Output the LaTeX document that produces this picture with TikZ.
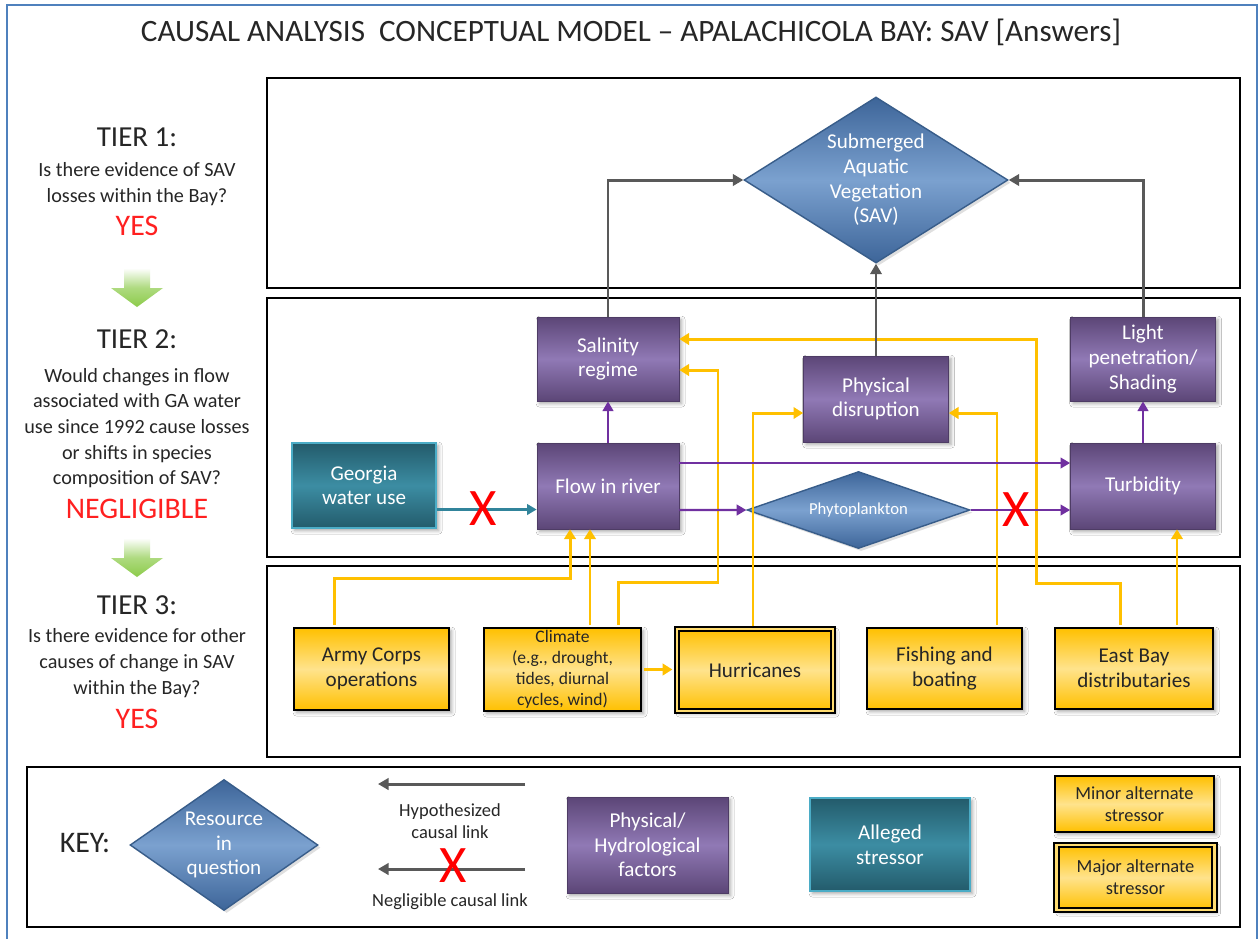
\documentclass[tikz,border=0pt]{standalone}
\usepackage{fontspec}
\setmainfont{Carlito}
\usetikzlibrary{arrows.meta,shapes.geometric,shadows,shadows.blur}
\definecolor{pdark}{HTML}{5C4677}
\definecolor{plight}{HTML}{9079B5}
\definecolor{tdark}{HTML}{235B6B}
\definecolor{tlight}{HTML}{3C8DA3}
\definecolor{tedge}{HTML}{4BACC6}
\definecolor{bdark}{HTML}{3D6599}
\definecolor{blight}{HTML}{7BA1CF}
\definecolor{bedge}{HTML}{385D8A}
\definecolor{ygold}{HTML}{FFC000}
\definecolor{ylight}{HTML}{FFE38C}
\definecolor{gline}{HTML}{595959}
\definecolor{pline}{HTML}{7030A0}
\definecolor{tline}{HTML}{31849B}
\definecolor{frame}{HTML}{4F81BD}
\definecolor{grn}{HTML}{8CCB4A}
\definecolor{ansred}{HTML}{FF2020}
\newcommand{\myfs}[2]{\fontsize{#1}{#2}\selectfont}
\tikzset{
  shd/.style={blur shadow={shadow xshift=1.5pt,shadow yshift=-1.5pt,shadow opacity=35,shadow blur radius=2pt}},
  dshd/.style={drop shadow={opacity=0.25,shadow xshift=1.5pt,shadow yshift=-1.5pt}},
  pbox/.style={rectangle,shd,draw=pdark!85!black,line width=0.4pt,top color=pdark,bottom color=pdark,middle color=plight,text=white,align=center,inner sep=0pt,font=\myfs{12}{14}},
  tbox/.style={rectangle,shd,draw=tedge,line width=1.1pt,top color=tdark,bottom color=tdark,middle color=tlight,text=white,align=center,inner sep=0pt,font=\myfs{12}{14}},
  ybox/.style={rectangle,shd,draw=black,line width=1.6pt,top color=ygold,bottom color=ygold,middle color=ylight,text=black!85,align=center,inner sep=0pt,font=\myfs{12}{14}},
  majbox/.style={ybox,line width=1.3pt,double=ylight!80!ygold,double distance=1.3pt},
  diam/.style={diamond,dshd,draw=bedge,line width=0.8pt,top color=bdark,bottom color=bdark,middle color=blight,text=white,align=center,inner sep=0pt},
  garrow/.style={draw=gline,line width=1.7pt,-{Triangle[length=6pt,width=6.5pt]}},
  parrow/.style={draw=pline,line width=1.4pt,-{Triangle[length=5.5pt,width=6pt]}},
  tarrow/.style={draw=tline,line width=1.6pt,-{Triangle[length=5.5pt,width=6pt]}},
  yarrow/.style={draw=ygold,line width=1.7pt,shorten <=0.8pt,-{Triangle[length=5.5pt,width=6.5pt]}},
  redx/.style={text=red,inner sep=0pt,font=\myfs{30}{30}},
  panel/.style={draw=black,line width=1pt},
  tierhead/.style={font=\myfs{16.5}{18},text=black!85,inner sep=0pt},
  tierq/.style={font=\myfs{11.5}{14.6},text=black!85,align=center,inner sep=0pt},
  ans/.style={font=\myfs{17}{18},text=ansred,inner sep=0pt},
  keytxt/.style={font=\myfs{10.5}{12.4},text=black!85,align=center,inner sep=0pt},
  grnarrow/.style={top color=white,bottom color=grn,middle color=grn!70!white}
}
\begin{document}
\begin{tikzpicture}[x=0.02cm,y=-0.02cm]
\useasboundingbox (0,0) rectangle (1259,938);

% background and panels
\fill[white] (0,0) rectangle (1259,938);
\draw[panel] (267,78) rectangle (1240,288);
\draw[panel] (267,298) rectangle (1240,557);
\draw[panel] (267,566) rectangle (1240,757);
\draw[panel] (27,767) rectangle (1240,927);
\draw[frame,line width=1.2pt] (7,5) rectangle (1257,950);

% title
\node[font=\myfs{17.7}{20},text=black!85,inner sep=0pt] (title) at (631,32) {CAUSAL ANALYSIS~ CONCEPTUAL MODEL -- APALACHICOLA BAY: SAV [Answers]};

% tiers
\node[tierhead] (t1) at (137,137) {TIER 1:};
\node[tierq] (q1) at (137,184) {Is there evidence of SAV\\losses within the Bay?};
\node[ans] (a1) at (137,226) {YES};
\path[grnarrow] (124,268) -- (150,268) -- (150,288) -- (163,288) -- (137,307) -- (111,288) -- (124,288) -- cycle;
\node[tierhead] (t2) at (137,339) {TIER 2:};
\node[tierq] (q2) at (137,428) {Would changes in flow\\associated with GA water\\use since 1992 cause losses\\or shifts in species\\composition of SAV?};
\node[ans] (a2) at (137,509) {NEGLIGIBLE};
\path[grnarrow] (124,538) -- (150,538) -- (150,558) -- (163,558) -- (137,577) -- (111,558) -- (124,558) -- cycle;
\node[tierhead] (t3) at (137,605) {TIER 3:};
\node[tierq] (q3) at (137,663) {Is there evidence for other\\causes of change in SAV\\within the Bay?};
\node[ans] (a3) at (137,719) {YES};

% tier 1
\node[diam,aspect=1.59,font=\myfs{12}{14},minimum width=5.28cm,minimum height=3.32cm] (sav) at (876,180) {Submerged\\Aquatic\\Vegetation\\(SAV)};
% tier 2
\node[pbox,minimum width=2.84cm,minimum height=1.68cm] (sal) at (608,359) {Salinity\\regime};
\node[pbox,minimum width=2.84cm,minimum height=1.72cm] (flow) at (608,486) {Flow in river};
\node[pbox,minimum width=2.9cm,minimum height=1.72cm] (phys) at (876,399) {Physical\\disruption};
\node[pbox,minimum width=2.9cm,minimum height=1.68cm] (light) at (1143,359) {Light\\penetration/\\Shading};
\node[pbox,minimum width=2.9cm,minimum height=1.72cm] (turb) at (1143,486) {Turbidity};
\node[tbox,minimum width=2.88cm,minimum height=1.7cm] (geo) at (364,485.5) {Georgia\\water use};
\node[diam,aspect=2.9,font=\myfs{9.5}{11},minimum width=4.46cm,minimum height=1.54cm] (phyto) at (858.5,510) {Phytoplankton};
% tier 3
\node[ybox,minimum width=3.1cm,minimum height=1.64cm] (army) at (371.5,669) {Army Corps\\operations};
\node[ybox,font=\myfs{10}{12},minimum width=3.14cm,minimum height=1.66cm] (clim) at (562.5,669.5) {Climate\\(e.g., drought,\\tides, diurnal\\cycles, wind)};
\node[majbox,minimum width=3.12cm,minimum height=1.64cm] (hurr) at (755,670) {Hurricanes};
\node[ybox,minimum width=3.1cm,minimum height=1.62cm] (fish) at (944.5,668.5) {Fishing and\\boating};
\node[ybox,minimum width=3.16cm,minimum height=1.62cm] (east) at (1134,668.5) {East Bay\\distributaries};
% key
\node[font=\myfs{17}{18},text=black!85,inner sep=0pt] (keylbl) at (85,843) {KEY:};
\node[diam,aspect=1.43,font=\myfs{12}{14},minimum width=3.76cm,minimum height=2.62cm] (res) at (224,845) {Resource\\in\\question};
\node[keytxt] (hyp) at (450,821) {Hypothesized\\causal link};
\node[keytxt] (negl) at (450,902) {Negligible causal link};
\node[pbox,minimum width=3.22cm,minimum height=1.92cm] (kphys) at (647.5,845) {Physical/\\Hydrological\\factors};
\node[tbox,minimum width=3.2cm,minimum height=1.86cm] (kteal) at (890,844.5) {Alleged\\stressor};
\node[ybox,font=\myfs{10.5}{12.4},minimum width=3.18cm,minimum height=1.12cm] (kmin) at (1134.5,804) {Minor alternate\\stressor};
\node[majbox,font=\myfs{10.5}{12.4},minimum width=3.16cm,minimum height=1.3cm] (kmaj) at (1135.5,877.5) {Major alternate\\stressor};

% key arrows
\coordinate (k1s) at (525,784);
\coordinate (k1e) at (378,784);
\coordinate (k2s) at (525,869);
\coordinate (k2e) at (378,869);
\draw[garrow] (k1s) -- (k1e);
\draw[garrow] (k2s) -- (k2e);

% yellow connectors
\draw[yarrow] ([xshift=-0.75cm]army.north) |- ([xshift=-0.76cm,yshift=-0.98cm]flow.south) -- ([xshift=-0.76cm]flow.south);
\draw[yarrow] ([xshift=0.55cm]clim.north) -- ([xshift=0.55cm]clim.north |- flow.south);
\draw[yarrow] ([xshift=1.13cm]clim.north) |- (718,582) |- ([yshift=-0.22cm]sal.east);
\draw[yarrow,shorten >=2pt] (clim.east) -- (clim.east -| hurr.west);
\draw[yarrow] ([xshift=-0.04cm]hurr.north) |- ([yshift=-0.28cm]phys.west);
\draw[yarrow] ([xshift=1.05cm]fish.north) |- ([yshift=-0.28cm]phys.east);
\draw[yarrow] ([xshift=-0.28cm]east.north) |- (1036,583) |- ([yshift=0.4cm]sal.east);
\draw[yarrow] ([xshift=0.86cm]east.north) -- ([xshift=0.86cm]east.north |- turb.south);

% purple connectors
\draw[parrow] (flow.north) -- (sal.south);
\draw[parrow] (turb.north) -- (light.south);
\draw[parrow] ([yshift=0.46cm]flow.east) -- ([yshift=0.46cm]flow.east -| turb.west);
\draw[parrow] ([yshift=-0.48cm]flow.east) -- (phyto.west);
\draw[parrow] (phyto.east) -- (phyto.east -| turb.west);

% teal connector
\draw[tarrow] ([yshift=-0.48cm]geo.east) -- ([yshift=-0.48cm]geo.east -| flow.west);

% gray connectors
\draw[garrow] (sal.north) |- (sav.west);
\draw[garrow] (phys.north) -- (sav.south);
\draw[garrow] (light.north) |- (sav.east);

% red crosses
\node[redx] (x1) at (483,509) {X};
\node[redx] (x2) at (1016,510) {X};
\node[redx] (x3) at (453,866) {X};
\end{tikzpicture}
\end{document}
